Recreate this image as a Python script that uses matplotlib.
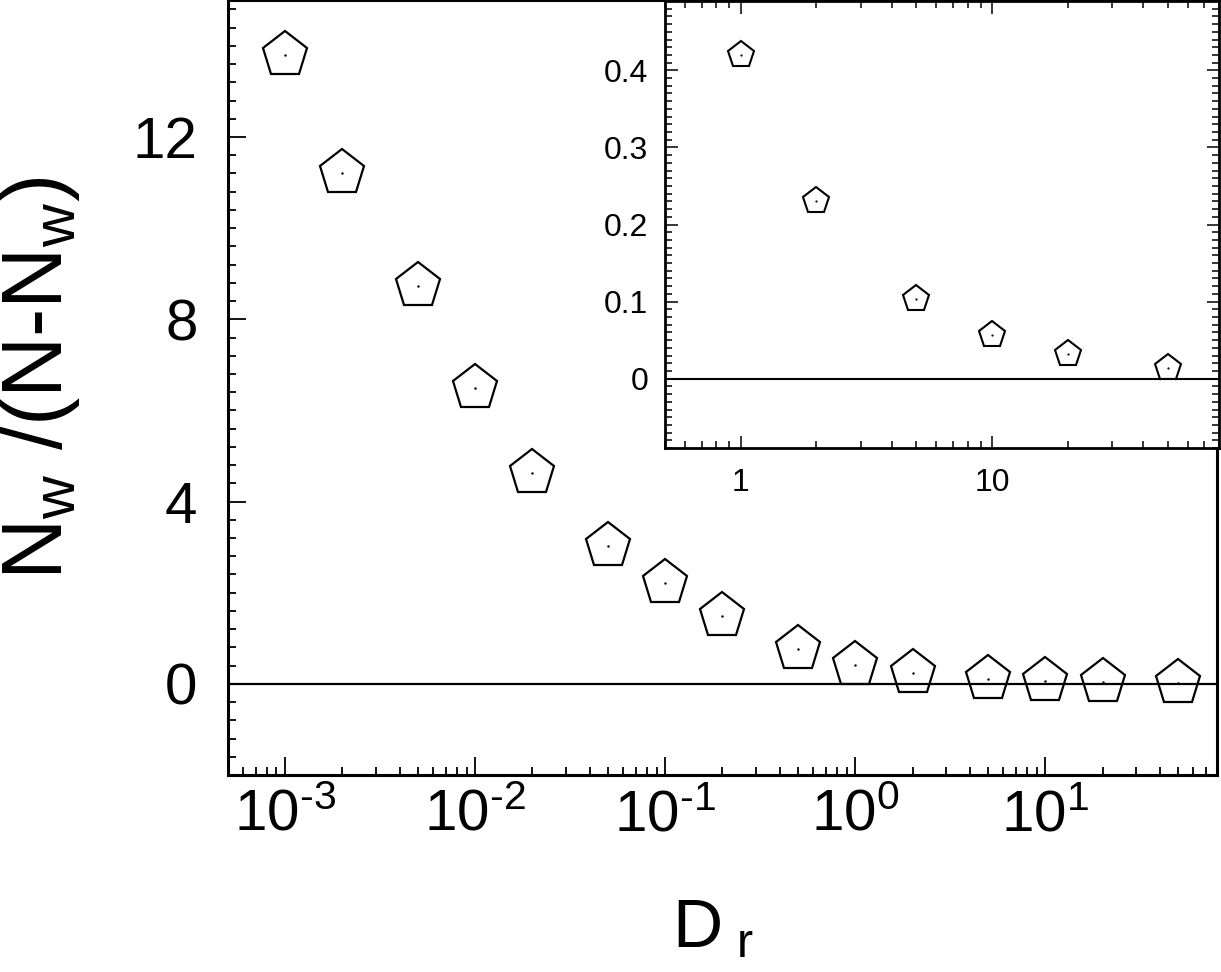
import numpy as np
import matplotlib
matplotlib.use("Agg")
import matplotlib.pyplot as plt
from matplotlib.ticker import (LogLocator, MultipleLocator, FixedLocator,
                               FixedFormatter, NullFormatter, FuncFormatter)

plt.rcParams['font.family'] = 'Liberation Sans'
plt.rcParams['mathtext.fontset'] = 'custom'
plt.rcParams['mathtext.rm'] = 'Liberation Sans'
plt.rcParams['mathtext.it'] = 'Liberation Sans'
plt.rcParams['axes.unicode_minus'] = False

# data
dr = [0.001, 0.002, 0.005, 0.01, 0.02, 0.05, 0.1, 0.2, 0.5, 1, 2, 5, 10, 20, 50]
ratio = [13.8, 11.2, 8.73, 6.5, 4.62, 3.03, 2.22, 1.49, 0.76, 0.42, 0.23, 0.10, 0.057, 0.032, 0.014]

dr_inset = [1, 2, 5, 10, 20, 50]
ratio_inset = [0.42, 0.23, 0.103, 0.057, 0.032, 0.014]


def pow10(v, pos):
    e = int(round(np.log10(v)))
    if e < 0:
        return r'$\mathregular{10^{\text{-}%d}}$' % (-e)
    return r'$\mathregular{10^{%d}}$' % e


fig = plt.figure(figsize=(12.21, 9.72), dpi=100)
ax = fig.add_axes([0.1867, 0.2027, 0.81, 0.797])

ax.plot(dr, ratio, 'p', ms=34, mfc='none', mec='k', mew=1.6)
ax.plot(dr, ratio, '.', ms=1.5, color='k')
ax.axhline(0, color='k', lw=1.6)

ax.set_xscale('log')
ax.set_xlim(5e-4, 80)
ax.set_ylim(-2, 15)
ax.xaxis.set_major_locator(LogLocator(base=10, numticks=10))
ax.xaxis.set_major_formatter(FuncFormatter(pow10))
ax.xaxis.set_minor_locator(LogLocator(base=10, subs=np.arange(2, 10), numticks=20))
ax.xaxis.set_minor_formatter(NullFormatter())
ax.yaxis.set_major_locator(MultipleLocator(4))
ax.yaxis.set_minor_locator(MultipleLocator(0.4))

ax.tick_params(which='both', direction='in', top=False, right=False, width=1.3)
ax.tick_params(which='major', length=13, labelsize=42)
ax.tick_params(axis='y', which='major', pad=22)
ax.tick_params(axis='x', which='major', pad=10)
ax.tick_params(which='minor', length=6)
for s in ax.spines.values():
    s.set_linewidth(2.2)

ax.set_xlabel(r'D$_\mathregular{\ r}$', fontsize=50)
ax.xaxis.set_label_coords(0.49, -0.158)
ax.set_ylabel(r'N$_\mathregular{w}$ /(N-N$_\mathregular{w}$)', fontsize=61)
ax.yaxis.set_label_coords(-0.148, 0.513)

# inset
ins = fig.add_axes([0.5446, 0.539, 0.4538, 0.46])
ins.set_facecolor('white')
ins.plot(dr_inset, ratio_inset, 'p', ms=20, mfc='none', mec='k', mew=1.5)
ins.plot(dr_inset, ratio_inset, '.', ms=1.2, color='k')
ins.axhline(0, color='k', lw=1.5)
ins.set_xscale('log')
ins.set_xlim(0.5, 80)
ins.set_ylim(-0.09, 0.49)
ins.xaxis.set_major_locator(FixedLocator([1, 10]))
ins.xaxis.set_major_formatter(FixedFormatter(['1', '10']))
ins.xaxis.set_minor_locator(LogLocator(base=10, subs=np.arange(2, 10), numticks=20))
ins.xaxis.set_minor_formatter(NullFormatter())
ins.yaxis.set_major_locator(FixedLocator([0, 0.1, 0.2, 0.3, 0.4]))
ins.yaxis.set_major_formatter(FixedFormatter(['0', '0.1', '0.2', '0.3', '0.4']))
ins.yaxis.set_minor_locator(MultipleLocator(0.01))
ins.tick_params(which='both', direction='in', top=True, right=True, width=1.1)
ins.tick_params(which='major', length=9, labelsize=23)
ins.tick_params(axis='y', which='major', pad=12)
ins.tick_params(axis='x', which='major', pad=14)
ins.tick_params(which='minor', length=5)
for s in ins.spines.values():
    s.set_linewidth(2.0)

fig.savefig('out.png', dpi=100)
